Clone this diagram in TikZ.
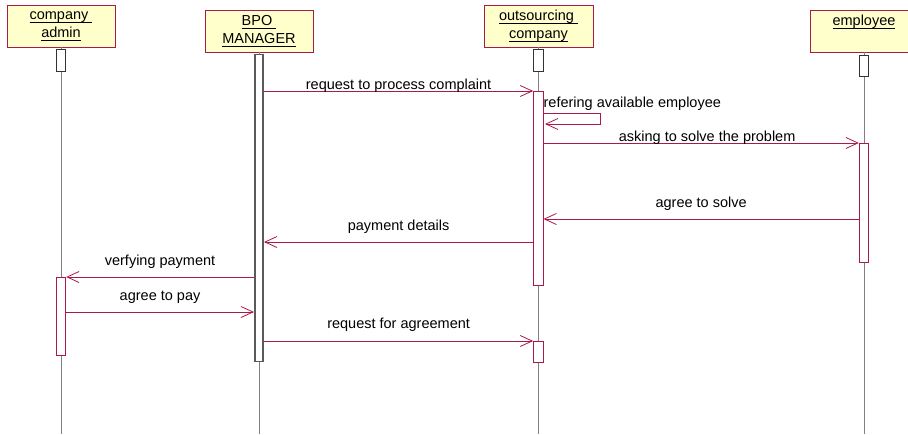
\documentclass[tikz,border=0pt]{standalone}
\usepackage{fontspec}
\setmainfont{Liberation Sans}
\usetikzlibrary{arrows.meta,calc}
\definecolor{umlred}{RGB}{170,25,75}
\definecolor{umlfill}{RGB}{255,255,204}
\definecolor{lifegray}{RGB}{128,128,128}
\definecolor{actgray}{RGB}{90,90,90}
\newcommand{\hdul}[1]{\setbox0\hbox{#1}\rlap{\rule[-3.2pt]{\wd0}{0.6pt}}\box0}
\begin{document}
\begin{tikzpicture}[x=1pt,y=-1pt,
  font=\fontsize{14.5}{18}\selectfont,
  objbox/.style={draw=umlred, fill=umlfill, line width=0.9pt, minimum width=108pt,
    minimum height=42pt, align=center, inner sep=0pt},
  lifeline/.style={draw=lifegray, line width=0.7pt},
  topbox/.style={draw=black!80, fill=white, line width=0.7pt, minimum width=9.5pt, inner sep=0pt},
  bpobox/.style={draw=actgray, fill=white, line width=1.6pt, minimum width=8.5pt, inner sep=0pt},
  actbox/.style={draw=umlred, fill=white, line width=0.8pt, minimum width=9.5pt, inner sep=0pt},
  msg/.style={draw=umlred, line width=0.8pt, -{Straight Barb[length=12pt,width=11pt]}},
  lbl/.style={inner sep=0pt, anchor=base, text=black}
]
\useasboundingbox (0,0) rectangle (908,434);
\fill[white] (0,0) rectangle (908,434);
\coordinate (bottom) at (0,434);

% objects
\node[objbox] (admin) at (61,26) {\hdul{company\ }\\\hdul{admin}};
\node[objbox] (bpo) at (259,31) {\hdul{BPO\ }\\\hdul{MANAGER}};
\node[objbox, minimum width=109pt] (outs) at (538.5,26) {\hdul{outsourcing\ }\\\hdul{company}};
\node[objbox] (emp) at (864,31) {\hdul{employee}\\\phantom{Xg}};

% lifelines
\draw[lifeline] (admin.south) -- (admin.south |- bottom);
\draw[lifeline] (bpo.south) -- (bpo.south |- bottom);
\draw[lifeline] (outs.south) -- (outs.south |- bottom);
\draw[lifeline] (emp.south) -- (emp.south |- bottom);

% top boxes
\node[topbox, minimum height=22pt] (admintop) at (61,60) {};
\node[topbox, minimum height=22pt] (outstop) at (538.5,60) {};
\node[topbox, minimum height=21pt] (emptop) at (864,65.5) {};

% activations
\node[bpobox, minimum height=307pt] (bpoact) at (259,208) {};
\node[actbox, minimum height=194pt] (outact) at (538.3,188) {};
\node[actbox, minimum height=119pt] (empact) at (864,202.5) {};
\node[actbox, minimum height=78pt] (adminact) at (61,316) {};
\node[actbox, minimum height=21pt] (outact2) at (538.3,351.5) {};

% message heights
\coordinate (y1) at (0,91);
\coordinate (ys1) at (0,113);
\coordinate (ys2) at (0,124);
\coordinate (y3) at (0,143);
\coordinate (y4) at (0,219);
\coordinate (y5) at (0,242);
\coordinate (y6) at (0,277);
\coordinate (y7) at (0,312);
\coordinate (y8) at (0,341);
\coordinate (selfturn) at (600,113);
\coordinate (selfback) at (545,124);

% messages
\draw[msg] (bpoact.east |- y1) -- node[lbl, yshift=2pt] {request to process complaint} (outact.west |- y1);
\draw[msg] (outact.east |- ys1) -- (selfturn) -- (selfturn |- ys2) -- (selfback);
\node[lbl, anchor=base west, yshift=6pt] (selflbl) at (outact.east |- ys1) {refering available employee};
\draw[msg] (outact.east |- y3) -- node[lbl, yshift=2pt, xshift=6pt] {asking to solve the problem} (empact.west |- y3);
\draw[msg] (empact.west |- y4) -- node[lbl, yshift=12pt] {agree to solve} (outact.east |- y4);
\draw[msg] (outact.west |- y5) -- node[lbl, yshift=12pt] {payment details} (bpoact.east |- y5);
\draw[msg] (bpoact.west |- y6) -- node[lbl, yshift=12pt] {verfying payment} (adminact.east |- y6);
\draw[msg] (adminact.east |- y7) -- node[lbl, yshift=12pt] {agree to pay} (bpoact.west |- y7);
\draw[msg] (bpoact.east |- y8) -- node[lbl, yshift=13pt] {request for agreement} (outact2.west |- y8);
\end{tikzpicture}
\end{document}
